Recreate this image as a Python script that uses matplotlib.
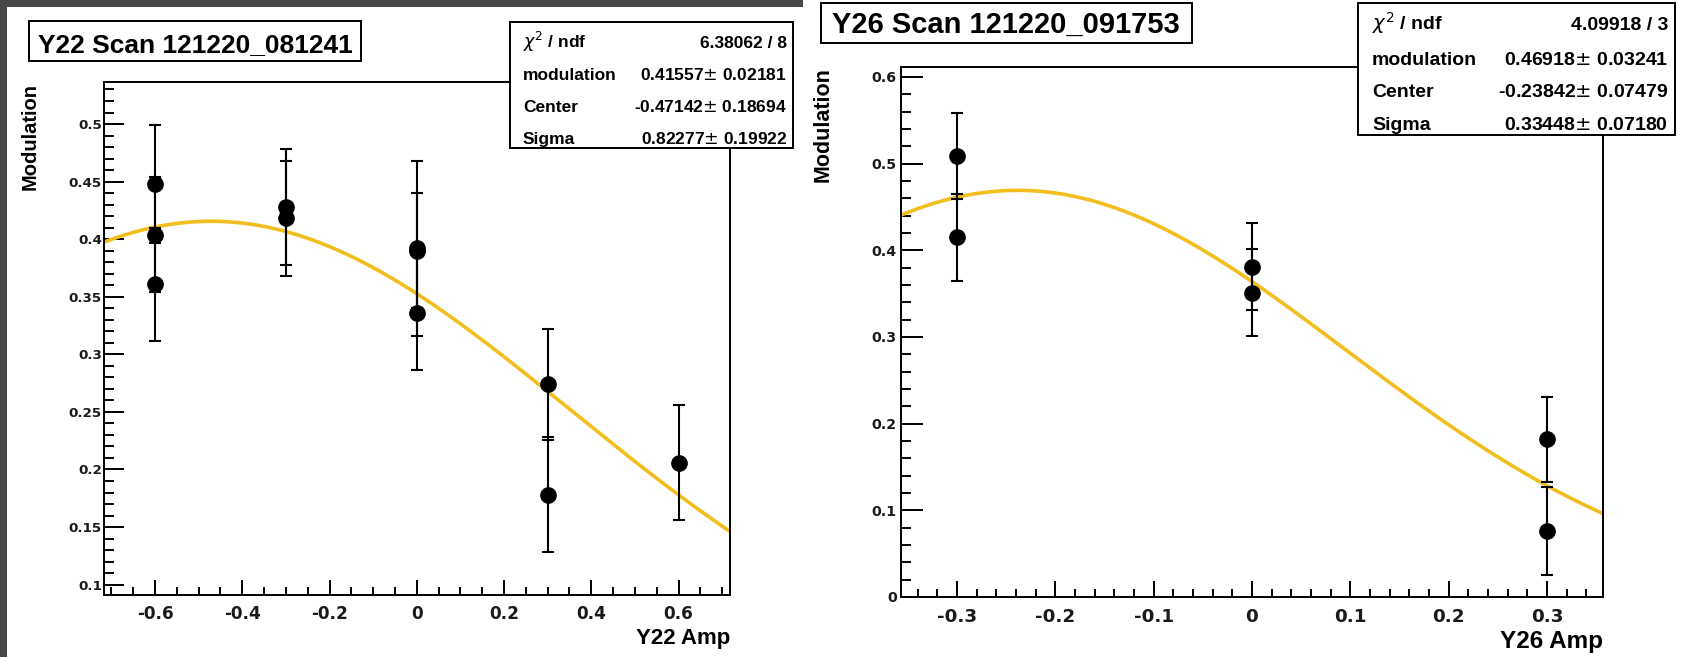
import numpy as np
import matplotlib
matplotlib.use('Agg')
from matplotlib import pyplot as plt
from matplotlib.patches import Rectangle
from matplotlib.ticker import MultipleLocator, FuncFormatter

plt.rcParams['axes.unicode_minus'] = False
plt.rcParams['font.family'] = 'DejaVu Sans'

W, H = 1687, 657
P = 0.72  # px -> pt at dpi 100

# Y22 scan 121220_081241
y22_amp = [-0.6, -0.6, -0.6, -0.3, -0.3, 0.0, 0.0, 0.0, 0.3, 0.3, 0.6]
y22_mod = [0.448, 0.404, 0.361, 0.428, 0.418, 0.390, 0.392, 0.336, 0.274, 0.178, 0.206]
y22_err = [0.051, 0.050, 0.049, 0.050, 0.050, 0.050, 0.076, 0.050, 0.048, 0.050, 0.050]
y22_fit = [0.41557, -0.47142, 0.82277]      # modulation, Center, Sigma
y22_fit_err = [0.02181, 0.18694, 0.19922]
y22_chi2 = [6.38062, 8]

# Y26 scan 121220_091753
y26_amp = [-0.3, -0.3, 0.0, 0.0, 0.3, 0.3]
y26_mod = [0.509, 0.415, 0.381, 0.351, 0.182, 0.076]
y26_err = [0.050, 0.050, 0.050, 0.050, 0.049, 0.051]
y26_fit = [0.46918, -0.23842, 0.33448]
y26_fit_err = [0.03241, 0.07479, 0.07180]
y26_chi2 = [4.09918, 3]

par_names = ['modulation', 'Center', 'Sigma']
fit_color = '#f2be1e'

fig = plt.figure(figsize=(W / 100, H / 100), dpi=100, facecolor='#474747')


def box(x0, y0, x1, y1, **kw):
    # pixel coords, origin top-left
    r = Rectangle((x0 / W, 1 - y1 / H), (x1 - x0) / W, (y1 - y0) / H,
                  transform=fig.transFigure, **kw)
    fig.add_artist(r)


def txt(x, y, s, **kw):
    fig.text(x / W, 1 - y / H, s, **kw)


def fmt(v, _):
    v = round(v, 6)
    return '0' if abs(v) < 1e-9 else '%g' % v


# canvases
box(7, 7, 803, 657, facecolor='white', edgecolor='none', zorder=-10)
box(803, 0, 1687, 657, facecolor='white', edgecolor='none', zorder=-10)


def panel(rect_px, amp, mod, err, fit, xlim, ylim, xmaj, xmin, ymaj, ymin,
          xls, yls, ylen, xlen, ypad, xpad):
    x0, y0, x1, y1 = rect_px
    ax = fig.add_axes([x0 / W, 1 - y1 / H, (x1 - x0) / W, (y1 - y0) / H])
    ax.set_facecolor('white')
    xs = np.linspace(xlim[0], xlim[1], 400)
    ax.plot(xs, fit[0] * np.exp(-0.5 * ((xs - fit[1]) / fit[2]) ** 2),
            color=fit_color, lw=2.6, zorder=2)
    ax.errorbar(amp, mod, yerr=err, fmt='o', color='black', ms=11,
                elinewidth=1.5, capsize=4, capthick=1.5, zorder=3)
    ax.set_xlim(xlim)
    ax.set_ylim(ylim)
    ax.xaxis.set_major_locator(MultipleLocator(xmaj))
    ax.xaxis.set_minor_locator(MultipleLocator(xmin))
    ax.yaxis.set_major_locator(MultipleLocator(ymaj))
    ax.yaxis.set_minor_locator(MultipleLocator(ymin))
    ax.xaxis.set_major_formatter(FuncFormatter(fmt))
    ax.yaxis.set_major_formatter(FuncFormatter(fmt))
    for s in ax.spines.values():
        s.set_linewidth(1.4)
    ax.tick_params(direction='in', width=1.4, which='both')
    ax.tick_params(axis='y', which='major', length=ylen[0] * P, pad=ypad * P, labelsize=yls)
    ax.tick_params(axis='y', which='minor', length=ylen[1] * P)
    ax.tick_params(axis='x', which='major', length=xlen[0] * P, pad=xpad * P, labelsize=xls)
    ax.tick_params(axis='x', which='minor', length=xlen[1] * P)
    for lab in ax.get_xticklabels() + ax.get_yticklabels():
        lab.set_fontweight('bold')
        lab.set_color('#1a1a1a')
    return ax


panel((104, 82, 730, 595), y22_amp, y22_mod, y22_err, y22_fit,
      (-0.717, 0.718), (0.091, 0.5365), 0.2, 0.05, 0.05, 0.01,
      12.2, 9.7, (20, 10), (15, 8), 2, 10)
panel((901, 67, 1603, 597), y26_amp, y26_mod, y26_err, y26_fit,
      (-0.357, 0.357), (0.0, 0.6115), 0.1, 0.02, 0.1, 0.02,
      13.2, 10.2, (21.7, 10), (15.7, 8.3), 4, 11)

lab_font = dict(family='Liberation Sans', weight='bold')

# titles
box(29, 21, 361, 61, facecolor='white', edgecolor='black', lw=1.4, zorder=10)
txt(195, 52, 'Y22 Scan 121220_081241', ha='center', va='baseline',
    fontsize=19, zorder=11, **lab_font)
box(821, 3, 1192, 43, facecolor='white', edgecolor='black', lw=1.4, zorder=10)
txt(1006, 33, 'Y26 Scan 121220_091753', ha='center', va='baseline',
    fontsize=21, zorder=11, **lab_font)

# axis titles
txt(30, 83, 'Modulation', rotation=90, ha='center', va='top', fontsize=14.5, **lab_font)
txt(823, 67, 'Modulation', rotation=90, ha='center', va='top', fontsize=15.5, **lab_font)
txt(730, 644, 'Y22 Amp', ha='right', va='baseline', fontsize=16, **lab_font)
txt(1603, 648, 'Y26 Amp', ha='right', va='baseline', fontsize=17.5, **lab_font)


def stats(bx, lx, rx, rows, fs, chi, fit, fit_err):
    box(*bx, facecolor='white', edgecolor='black', lw=1.4, zorder=10)
    labels = [r'$\chi^{2}$ / ndf'] + par_names
    values = ['%.5f / %d' % (chi[0], chi[1])] + \
             ['%.5f$\\pm$ %.5f' % (v, e) for v, e in zip(fit, fit_err)]
    for y, l, v in zip(rows, labels, values):
        txt(lx, y, l, ha='left', va='baseline', fontsize=fs, zorder=11, **lab_font)
        txt(rx, y, v, ha='right', va='baseline', fontsize=fs, zorder=11, **lab_font)


stats((510, 22, 793, 148), 523, 787, [48, 80, 112, 144], 12.5,
      y22_chi2, y22_fit, y22_fit_err)
stats((1358, 3, 1675, 135), 1372, 1668, [30, 65, 97, 130], 14,
      y26_chi2, y26_fit, y26_fit_err)

fig.savefig('out.png', dpi=100, facecolor=fig.get_facecolor())
